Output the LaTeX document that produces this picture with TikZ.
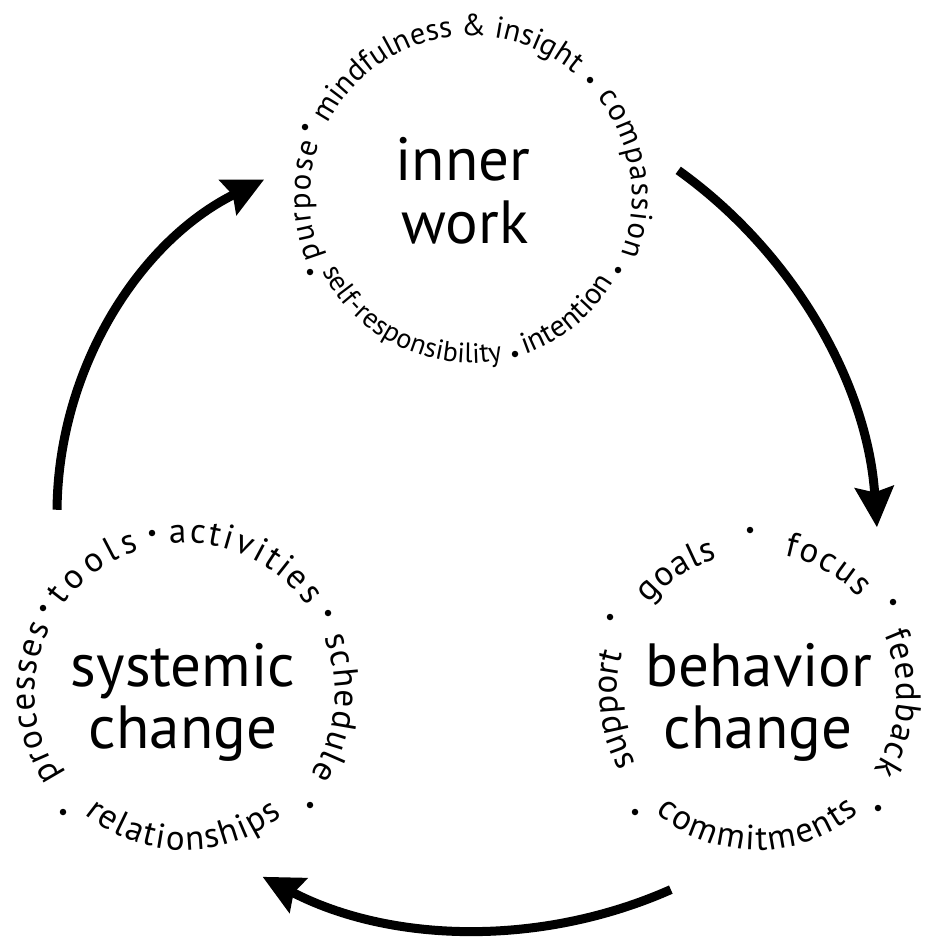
\documentclass[tikz,border=0pt]{standalone}
\usepackage{fontspec}
\setmainfont{PT Sans}
\usetikzlibrary{decorations.text,arrows.meta,calc}
\newcommand\ringword[6]{%
  \path[decorate, decoration={text along path, text align=fit to path,
    text={|\fontsize{#5}{#5}\selectfont|#6}}]
    ($(#1)+(#3:#2)$) arc[start angle=#3, end angle=#4, radius=#2];
}
\begin{document}
\begin{tikzpicture}[x=1pt,y=1pt,
  lab/.style={font=\fontsize{61}{61}\selectfont, inner sep=0pt, anchor=base},
  dotmark/.style={fill=black, circle, inner sep=0pt, minimum size=6.5pt},
  flow/.style={line width=9pt, -{Stealth[length=40pt,width=38pt,inset=5pt]}},
]
\useasboundingbox (0,0) rectangle (935,-940);
% ring centres
\coordinate (I) at (471,-197);
\coordinate (B) at (757,-693);
\coordinate (S) at (185,-693);

% ---------- inner work ----------
\node[lab] (inner1) at (463,-180) {inner};
\node[lab] (inner2) at (465,-243) {work};
\ringword{I}{161}{202}{160.5}{31}{purpose}
\ringword{I}{161}{153}{51}{30.5}{mindfulness {\&} insight}
\ringword{I}{161}{38.5}{-21}{31}{compassion}
\ringword{I}{166}{-71}{-33}{30}{intention}
\ringword{I}{166}{-153.5}{-79}{28}{self-responsibility}
\node[dotmark] (i1) at (305,-127) {};
\node[dotmark] (i2) at (590,-80) {};
\node[dotmark] (i3) at (618,-270) {};
\node[dotmark] (i4) at (515,-354) {};
\node[dotmark] (i5) at (310,-272) {};

% ---------- behavior change ----------
\node[lab] (beh1) at (759,-686) {behavior};
\node[lab] (beh2) at (758,-748) {change};
\ringword{B}{140}{140.5}{106.4}{35}{goals}
\ringword{B}{140}{78.7}{43}{35}{focus}
\ringword{B}{140}{24.9}{-33.3}{35}{feedback}
\ringword{B}{157}{-130.3}{-49.4}{35}{commitments}
\ringword{B}{140}{210}{164.7}{35}{support}
\node[dotmark] (b1) at (750,-530) {};
\node[dotmark] (b2) at (893,-602) {};
\node[dotmark] (b3) at (878,-808) {};
\node[dotmark] (b4) at (635,-812) {};
\node[dotmark] (b5) at (610,-617) {};

% ---------- systemic change ----------
\node[lab] (sys1) at (183,-686) {systemic};
\node[lab] (sys2) at (183,-748) {change};
\ringword{S}{150}{144.4}{107.9}{35}{tools}
\ringword{S}{150}{96}{35.5}{35}{activities}
\ringword{S}{150}{21.8}{-32.9}{35}{schedule}
\ringword{S}{157}{-129.6}{-51.5}{35}{relationships}
\ringword{S}{150}{213.8}{154}{35}{processes}
\node[dotmark] (s1) at (152,-533) {};
\node[dotmark] (s2) at (328,-613) {};
\node[dotmark] (s3) at (310,-805) {};
\node[dotmark] (s4) at (63,-812) {};
\node[dotmark] (s5) at (43,-608) {};

% ---------- arrows ----------
\coordinate (a1) at ($(400,-559)+(54.4:478)$);
\coordinate (a2) at ($(480,-459)+(-66.1:471)$);
\coordinate (a3) at ($(429,-513)+(179.5:372)$);
\draw[flow] (a1) arc[start angle=54.4, end angle=3.8, radius=478];
\draw[flow] (a2) arc[start angle=-66.1, end angle=-117.5, radius=471];
\draw[flow] (a3) arc[start angle=179.5, end angle=116.3, radius=372];
\end{tikzpicture}
\end{document}
